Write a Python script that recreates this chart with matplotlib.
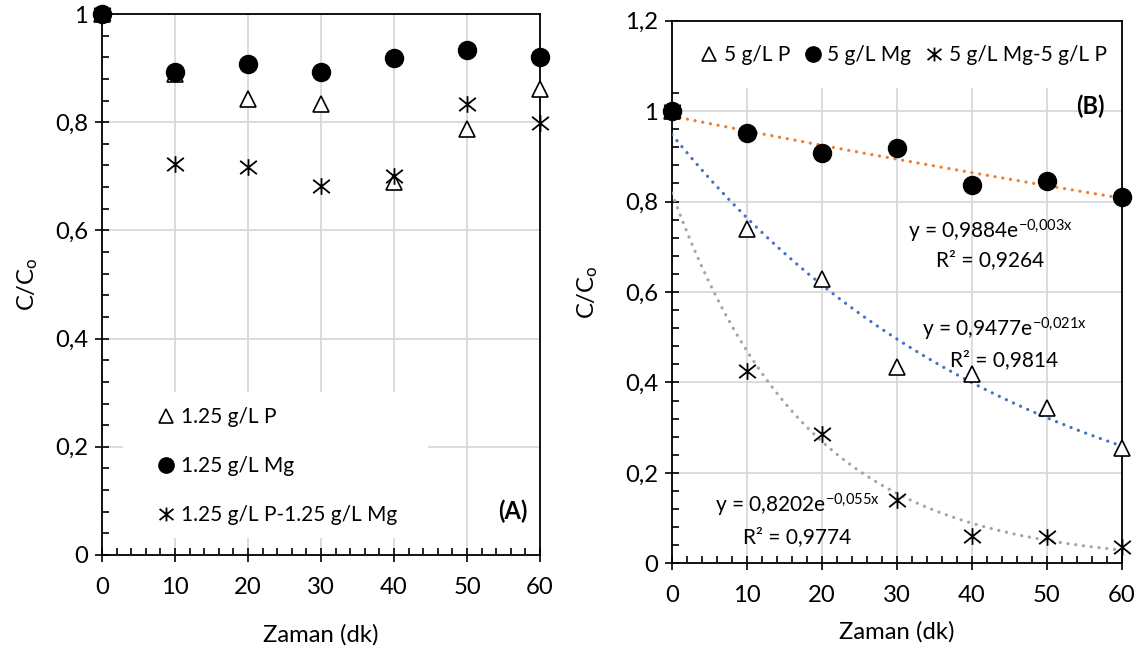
import numpy as np
import matplotlib
matplotlib.use("Agg")
import matplotlib.pyplot as plt
from matplotlib.path import Path
from matplotlib.patches import Rectangle
from matplotlib.lines import Line2D

plt.rcParams['font.family'] = ['Lato', 'DejaVu Sans']
plt.rcParams['mathtext.fontset'] = 'custom'
plt.rcParams['mathtext.rm'] = 'Lato'
plt.rcParams['mathtext.it'] = 'Lato:italic'
plt.rcParams['mathtext.bf'] = 'Lato:bold'

# ---------------- data ----------------
time_min = [0, 10, 20, 30, 40, 50, 60]

# Panel A (1.25 g/L)
a_P = [1.0, 0.89, 0.843, 0.833, 0.690, 0.788, 0.861]
a_Mg = [1.0, 0.893, 0.908, 0.892, 0.918, 0.934, 0.921]
a_PMg = [1.0, 0.723, 0.718, 0.683, 0.701, 0.833, 0.798]
a_labels = ["1.25 g/L P", "1.25 g/L Mg", "1.25 g/L P-1.25 g/L Mg"]

# Panel B (5 g/L)
b_P = [1.0, 0.739, 0.628, 0.435, 0.419, 0.343, 0.254]
b_Mg = [1.0, 0.952, 0.907, 0.919, 0.837, 0.845, 0.811]
b_MgP = [1.0, 0.425, 0.285, 0.140, 0.060, 0.059, 0.035]
b_labels = ["5 g/L P", "5 g/L Mg", "5 g/L Mg-5 g/L P"]

b_eq_Mg = ["y = 0,9884e$^{\\mathrm{-0{,}003x}}$", "R² = 0,9264"]
b_eq_P = ["y = 0,9477e$^{\\mathrm{-0{,}021x}}$", "R² = 0,9814"]
b_eq_MgP = ["y = 0,8202e$^{\\mathrm{-0{,}055x}}$", "R² = 0,9774"]

x_ticks = [0, 10, 20, 30, 40, 50, 60]
a_yticks = [0, 0.2, 0.4, 0.6, 0.8, 1.0]
a_ytick_labels = ["0", "0,2", "0,4", "0,6", "0,8", "1"]
b_yticks = [0, 0.2, 0.4, 0.6, 0.8, 1.0, 1.2]
b_ytick_labels = ["0", "0,2", "0,4", "0,6", "0,8", "1", "1,2"]

# ---------------- styles ----------------
star = Path([(-1, -0.8), (1, 0.8), (-1, 0.8), (1, -0.8), (0, -1), (0, 1)],
            [Path.MOVETO, Path.LINETO, Path.MOVETO, Path.LINETO, Path.MOVETO, Path.LINETO])

FS = 17.2
LFS = 15
fig = plt.figure(figsize=(11.42, 6.55), dpi=100)
axA = fig.add_axes([0.0893, 0.1527, 0.3836, 0.8259])
axB = fig.add_axes([0.5884, 0.140, 0.3941, 0.8284])


def style_axes(ax, ymax, yticks, ylabels, xlabelpad, ylabelpad):
    ax.set_xlim(0, 60)
    ax.set_ylim(0, ymax)
    ax.set_xticks(x_ticks)
    ax.set_xticklabels([str(t) for t in x_ticks], fontsize=FS)
    ax.set_yticks(yticks)
    ax.set_yticklabels(ylabels, fontsize=FS)
    ax.set_xticks(np.arange(0, 61, 2), minor=True)
    ax.set_yticks(np.arange(0, ymax + 0.001, 0.04), minor=True)
    ax.tick_params(which='major', direction='inout', length=10, width=1.2, color='black')
    ax.tick_params(axis='x', which='major', pad=10.5)
    ax.tick_params(axis='y', which='major', pad=5)
    ax.tick_params(which='minor', direction='in', length=5, width=1.2, color='black')
    ax.grid(True, which='major', color='#d9d9d9', linewidth=1.3)
    ax.set_axisbelow(True)
    for s in ax.spines.values():
        s.set_linewidth(1.3)
        s.set_color('black')
    ax.set_xlabel("Zaman (dk)", fontsize=FS, labelpad=xlabelpad)
    ax.set_ylabel("C/C$_\\mathrm{o}$", fontsize=FS, labelpad=ylabelpad)


style_axes(axA, 1.0, a_yticks, a_ytick_labels, 19, 11)
style_axes(axB, 1.2, b_yticks, b_ytick_labels, 11, 18)

mk = dict(linestyle='none', clip_on=False, zorder=5)
tri = dict(marker='^', markersize=12, markerfacecolor='white', markeredgecolor='black', markeredgewidth=1.2)
circ = dict(marker='o', markersize=13, markerfacecolor='black', markeredgecolor='black')
st = dict(marker=star, markersize=12, markerfacecolor='none', markeredgecolor='black', markeredgewidth=1.3)


def leg_handles():
    return [Line2D([], [], linestyle='none', marker='^', markersize=10, markerfacecolor='white',
                   markeredgecolor='black', markeredgewidth=1.2),
            Line2D([], [], linestyle='none', marker='o', markersize=11, color='black'),
            Line2D([], [], linestyle='none', marker=star, markersize=10, markerfacecolor='none',
                   markeredgecolor='black', markeredgewidth=1.3)]


# ---------------- panel A ----------------
axA.add_patch(Rectangle((0.048, 0.031), 0.696, 0.27, transform=axA.transAxes,
                        facecolor='white', edgecolor='none', zorder=1))
axA.plot(time_min, a_P, **tri, **mk)
axA.plot(time_min, a_Mg, **circ, **mk)
axA.plot(time_min, a_PMg, **st, **mk)
legA = axA.legend(leg_handles(), a_labels, loc='upper left', bbox_to_anchor=(0.127, 0.273),
                  frameon=False, fontsize=LFS, handlelength=0.8, handletextpad=0.3,
                  labelspacing=1.38, borderpad=0.0, borderaxespad=0.0)
legA.set_zorder(6)
axA.text(0.972, 0.08, "(A)", transform=axA.transAxes, fontsize=17, fontweight='bold',
         ha='right', va='center')

# ---------------- panel B ----------------
axB.add_patch(Rectangle((0.0, 0.876), 1.0, 0.124, transform=axB.transAxes,
                        facecolor='white', edgecolor='none', zorder=1))

xs = np.linspace(0, 60, 300)
trend_colors = ['#4472C4', '#ED7D31', '#A5A5A5']
for ys, c in zip([b_P, b_Mg, b_MgP], trend_colors):
    b, lna = np.polyfit(time_min, np.log(ys), 1)
    axB.plot(xs, np.exp(lna) * np.exp(b * xs), color=c, linewidth=2.3,
             linestyle=(0, (0.05, 2.4)), dash_capstyle='round', zorder=4)

axB.plot(time_min, b_P, **tri, **mk)
axB.plot(time_min, b_Mg, **circ, **mk)
axB.plot(time_min, b_MgP, **st, **mk)

legB = axB.legend(leg_handles(), b_labels, loc='center', bbox_to_anchor=(0.515, 0.937),
                  frameon=False, ncol=3, fontsize=LFS, handlelength=0.8, handletextpad=0.3,
                  columnspacing=0.7, borderpad=0.0, borderaxespad=0.0)
legB.set_zorder(6)
axB.text(0.962, 0.842, "(B)", transform=axB.transAxes, fontsize=17, fontweight='bold',
         ha='right', va='center')

eq_fs = 15
for eq, (xc, y1, y2) in zip([b_eq_Mg, b_eq_P, b_eq_MgP],
                            [(42.4, 0.735, 0.671), (44.3, 0.518, 0.45), (16.7, 0.127, 0.059)]):
    axB.text(xc, y1, eq[0], fontsize=eq_fs, ha='center', va='center', zorder=7)
    axB.text(xc, y2, eq[1], fontsize=eq_fs, ha='center', va='center', zorder=7)

fig.savefig("out.png", dpi=100)
